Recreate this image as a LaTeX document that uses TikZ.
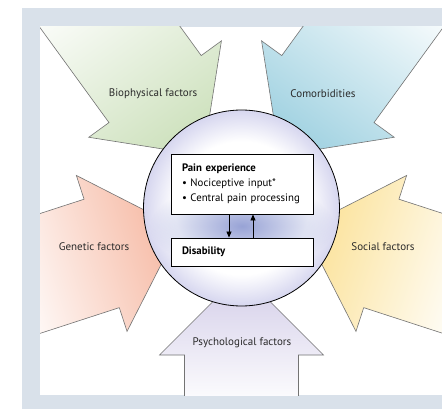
\documentclass[tikz,border=0pt]{standalone}
\usepackage{fontspec}
\setmainfont{PT Sans}
\usetikzlibrary{arrows.meta,fadings,positioning}

\definecolor{framegray}{HTML}{D9E1EA}
\definecolor{biogreen}{HTML}{CFE2BF}
\definecolor{comblue}{HTML}{A3D3E2}
\definecolor{genred}{HTML}{F6B8A2}
\definecolor{socyel}{HTML}{FBE196}
\definecolor{psylav}{HTML}{D2CCE8}
\definecolor{rimlav}{HTML}{D6D6EF}
\definecolor{glowblue}{HTML}{98A3D6}
\definecolor{textgray}{HTML}{2A2A2A}

\pgfdeclareradialshading{discshade}{\pgfpoint{0bp}{0bp}}{color(0bp)=(white); color(17bp)=(white); color(25bp)=(rimlav); color(50bp)=(rimlav)}
\tikzfading[name=glowfade, inner color=transparent!0, outer color=transparent!100]

\tikzstyle{factor}     = [draw=black!55, line width=0.6pt, top color=#1, middle color=#1!40!white, bottom color=white]
\tikzstyle{factortext} = [text=textgray, font=\fontsize{11}{13}\selectfont]
\tikzstyle{box}        = [draw=black, line width=0.9pt, fill=white, inner xsep=11pt, text width=120pt, align=left, font=\fontsize{10.8}{15}\selectfont]
\tikzstyle{flow}       = [line width=0.8pt, -{Triangle[length=6pt,width=5pt]}]

\begin{document}
\begin{tikzpicture}[x=1pt, y=-1pt]
    \useasboundingbox (0,0) rectangle (442,409);
    \fill[framegray] (22,8) rectangle (442,409);
    \fill[white] (40,27) rectangle (442,395);

    % factor arrows, all pointing at the disc
    \begin{scope}
        \clip (40,27) rectangle (442,395);
        \begin{scope}[shift={(241.5,208)}, rotate=90]
            \draw[factor=psylav, shading angle=0] (-65,0) -- (-147,82) -- (-147,57) -- (-200,57) -- (-200,-57) -- (-147,-57) -- (-147,-82) -- cycle;
        \end{scope}
        \begin{scope}[shift={(241.5,208)}, rotate=18]
            \draw[factor=genred, shading angle=-72] (-65,0) -- (-147,82) -- (-147,57) -- (-240,57) -- (-240,-57) -- (-147,-57) -- (-147,-82) -- cycle;
        \end{scope}
        \begin{scope}[shift={(241.5,208)}, rotate=162]
            \draw[factor=socyel, shading angle=72] (-65,0) -- (-147,82) -- (-147,57) -- (-240,57) -- (-240,-57) -- (-147,-57) -- (-147,-82) -- cycle;
        \end{scope}
        \begin{scope}[shift={(241.5,208)}, rotate=-54]
            \draw[factor=biogreen, shading angle=-144] (-65,0) -- (-147,82) -- (-147,57) -- (-270,57) -- (-270,-57) -- (-147,-57) -- (-147,-82) -- cycle;
        \end{scope}
        \begin{scope}[shift={(241.5,208)}, rotate=-126]
            \draw[factor=comblue, shading angle=144] (-65,0) -- (-147,82) -- (-147,57) -- (-270,57) -- (-270,-57) -- (-147,-57) -- (-147,-82) -- cycle;
        \end{scope}
    \end{scope}

    \node[circle, draw, line width=0.8pt, minimum size=196pt, inner sep=0pt, shade, shading=discshade] (disc) at (241.5,208) {};
    \fill[glowblue, path fading=glowfade] (242,226) ellipse (92 and 44);

    \node[box, minimum height=60pt] (pain) at (242,184) {\textbf{Pain experience}\\ • Nociceptive input*\\ • Central pain processing};
    \node[box, minimum height=28pt] (disab) at (242,252) {\textbf{Disability}};
    \draw[flow] ([xshift=-13pt]pain.south) -- ([xshift=-13pt]disab.north);
    \draw[flow] ([xshift=11pt]disab.north) -- ([xshift=11pt]pain.south);

    \node[factortext] (bio) at (153,94) {Biophysical factors};
    \node[factortext] (comorb) at (323,94) {Comorbidities};
    \node[factortext] (gen) at (94,247) {Genetic factors};
    \node[factortext] (soc) at (383,247) {Social factors};
    \node[factortext] (psy) at (242,343) {Psychological factors};
\end{tikzpicture}
\end{document}
